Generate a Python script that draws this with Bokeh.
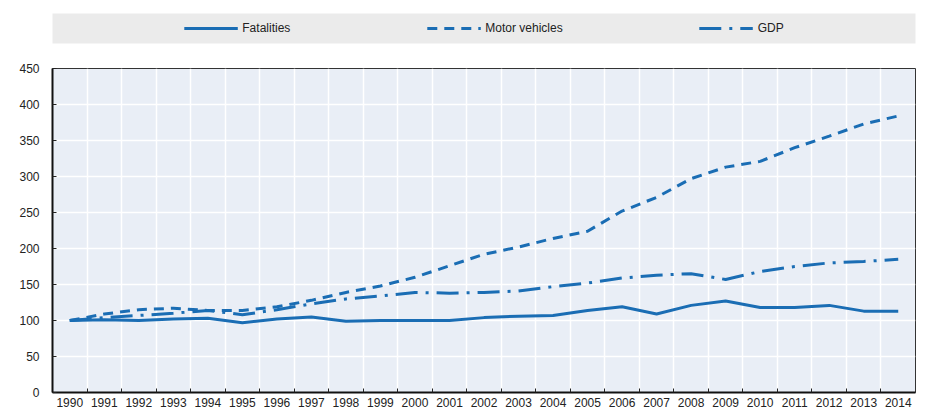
import math
from bokeh.plotting import figure
from bokeh.models import Range1d, FixedTicker, Legend, LegendItem
from bokeh.layouts import column
from bokeh.embed import file_html
from bokeh.resources import INLINE

years = list(range(1990, 2015))
fatalities = [100, 101, 100, 102, 103, 97, 102, 105, 99, 100, 100, 100, 104,
              106, 107, 114, 119, 109, 121, 127, 118, 118, 121, 113, 113]
motor_vehicles = [100, 109, 115, 117, 114, 114, 119, 128, 139, 148, 160, 176, 192,
                  202, 214, 224, 252, 271, 297, 313, 321, 340, 356, 373, 384]
gdp = [100, 104, 107, 110, 114, 108, 115, 123, 130, 134, 139, 138, 139,
       141, 147, 152, 159, 163, 165, 157, 168, 175, 180, 182, 185]
y_ticks = [0, 50, 100, 150, 200, 250, 300, 350, 400, 450]
series_names = ["Fatalities", "Motor vehicles", "GDP"]

BLUE = "#1a6db4"
FONT = "Liberation Sans"
DASHES = ["solid", "10 7", "22 8 3 8"]
LW = 3

# ---- legend band figure ----
leg = figure(width=925, height=53, x_range=Range1d(0, 1), y_range=Range1d(0, 1),
             output_backend="svg", toolbar_location=None,
             min_border_left=52, min_border_right=8, min_border_top=13, min_border_bottom=10,
             background_fill_color="#ebebeb", border_fill_color="white",
             outline_line_color=None)
leg.xaxis.visible = False
leg.yaxis.visible = False
leg.grid.visible = False
items = []
for name, dash in zip(series_names, DASHES):
    r = leg.line(x=[math.nan], y=[math.nan], line_color=BLUE, line_width=LW, line_dash=dash)
    items.append(LegendItem(label=name, renderers=[r]))
legend = Legend(items=items, orientation="horizontal", location="center",
                background_fill_alpha=0, border_line_color=None,
                glyph_width=54, glyph_height=20, label_standoff=5, spacing=136,
                padding=0, margin=0,
                label_text_font=FONT, label_text_font_size="12px", label_text_color="#222222")
leg.add_layout(legend, "center")

# ---- main chart ----
p = figure(width=925, height=358, x_range=Range1d(1989.5, 2014.5), y_range=Range1d(0, 450),
           output_backend="svg", toolbar_location=None,
           min_border_left=51, min_border_right=10, min_border_top=15, min_border_bottom=19,
           background_fill_color="#e9eef6", border_fill_color="white",
           outline_line_color="#333333", outline_line_width=1)

boundaries = [y + 0.5 for y in years[:-1]]
p.xaxis.ticker = FixedTicker(ticks=years, minor_ticks=boundaries)
p.xaxis.major_tick_line_color = None
p.xaxis.major_tick_in = 0
p.xaxis.major_tick_out = 0
p.xaxis.minor_tick_in = 4
p.xaxis.minor_tick_out = 0
p.xaxis.minor_tick_line_color = "#222222"
p.xaxis.major_label_standoff = 5
p.xgrid.grid_line_color = None
p.xgrid.minor_grid_line_color = "white"
p.xgrid.minor_grid_line_width = 1.5

p.yaxis.ticker = FixedTicker(ticks=y_ticks)
p.yaxis.major_tick_in = 4
p.yaxis.major_tick_out = 0
p.yaxis.minor_tick_line_color = None
p.yaxis.major_label_standoff = 13
p.ygrid.grid_line_color = "white"
p.ygrid.grid_line_width = 1.5

for ax in (p.xaxis, p.yaxis):
    ax.axis_line_color = "#111111"
    ax.axis_line_width = 2
    ax.major_label_text_font = FONT
    ax.major_label_text_font_size = "12px"
    ax.major_label_text_color = "#222222"
p.yaxis.major_tick_line_color = "#222222"

for vals, dash in zip([fatalities, motor_vehicles, gdp], DASHES):
    p.line(x=years, y=vals, line_color=BLUE, line_width=LW, line_dash=dash)

layout = column(leg, p, spacing=0)
open("out.html", "w").write(file_html(layout, INLINE))
